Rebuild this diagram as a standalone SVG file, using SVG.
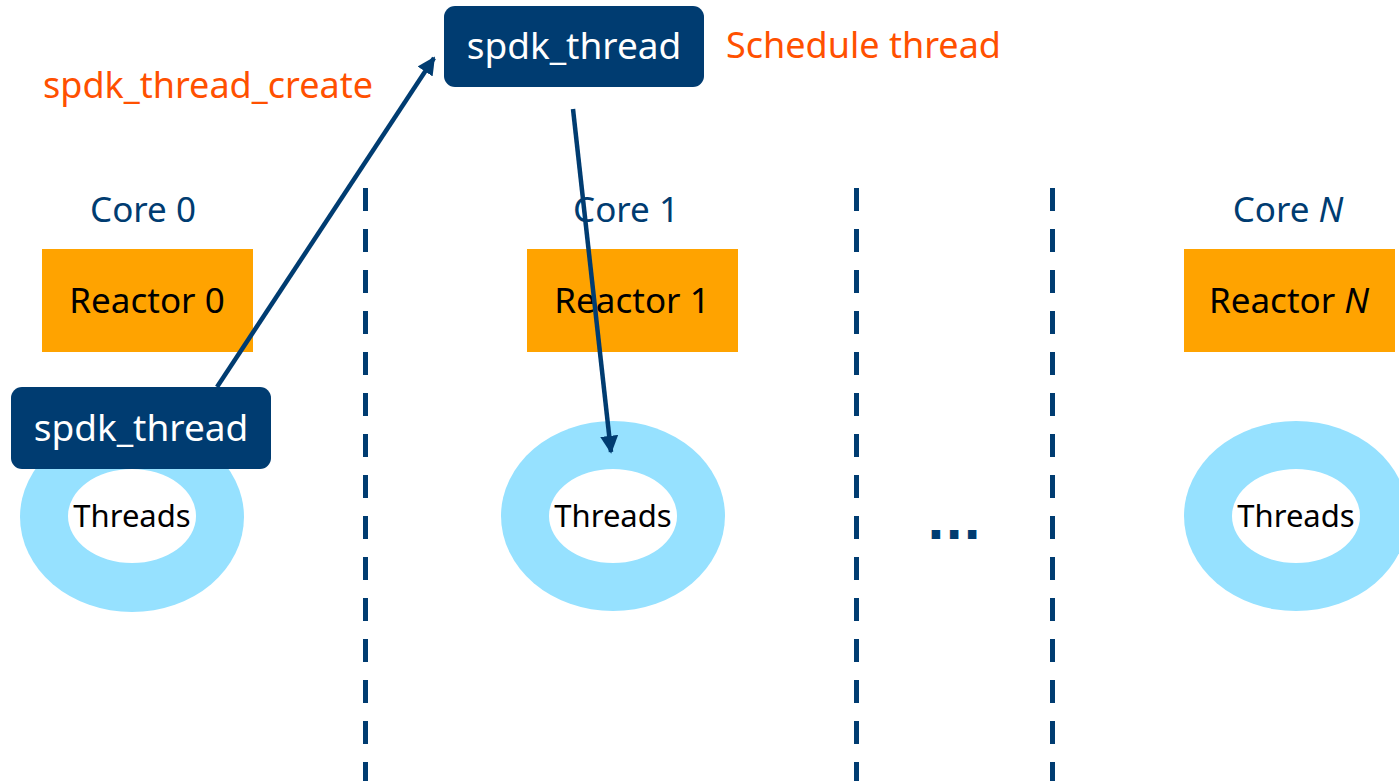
<svg xmlns="http://www.w3.org/2000/svg" width="1399" height="781" viewBox="0 0 1399 781">
  <style>
    text { font-family: "Noto Sans", "Open Sans", "DejaVu Sans", sans-serif; }
    .core { fill: #003C71; font-size: 35px; text-anchor: middle; }
    .reactor { fill: #FFA300; }
    .reactor-label { fill: #000000; font-size: 35px; text-anchor: middle; }
    .ring { fill: #96E1FF; }
    .hole { fill: #FFFFFF; }
    .threads { fill: #000000; font-size: 31px; text-anchor: middle; }
    .thread-box { fill: #003C71; }
    .thread-label { fill: #FFFFFF; font-size: 37px; text-anchor: middle; }
    .note { fill: #FF5000; font-size: 36px; }
    .dots { fill: #003C71; font-family: "DejaVu Sans", sans-serif; font-size: 48px; font-weight: bold; text-anchor: middle; }
    .divider { stroke: #003C71; stroke-width: 5; stroke-dasharray: 23 18; fill: none; }
    .link { stroke: #003C71; stroke-width: 4.5; fill: none; marker-end: url(#head); }
  </style>
  <defs>
    <marker id="head" viewBox="0 0 10 10" refX="9" refY="5" markerWidth="4" markerHeight="4" orient="auto" markerUnits="strokeWidth">
      <path d="M0,0 L10,5 L0,10 Z" fill="#003C71"/>
    </marker>
  </defs>

  <rect width="1399" height="781" fill="#FFFFFF"/>

  <!-- core separators -->
  <g id="dividers">
    <line class="divider" x1="365.5" y1="188" x2="365.5" y2="781"/>
    <line class="divider" x1="856.5" y1="188" x2="856.5" y2="781"/>
    <line class="divider" x1="1052.5" y1="188" x2="1052.5" y2="781"/>
  </g>

  <!-- core 0 -->
  <g id="core0">
    <text class="core" x="143" y="222">Core 0</text>
    <rect class="reactor" x="42" y="249" width="211" height="103"/>
    <text class="reactor-label" x="147" y="313">Reactor 0</text>
    <ellipse class="ring" cx="132" cy="517" rx="112" ry="95"/>
    <ellipse class="hole" cx="132" cy="516" rx="64" ry="47"/>
    <text class="threads" x="132" y="527">Threads</text>
  </g>

  <!-- core 1 -->
  <g id="core1">
    <text class="core" x="626" y="222">Core 1</text>
    <rect class="reactor" x="527" y="249" width="211" height="103"/>
    <text class="reactor-label" x="632" y="313">Reactor 1</text>
    <ellipse class="ring" cx="613" cy="516" rx="112" ry="95"/>
    <ellipse class="hole" cx="613" cy="516" rx="64" ry="47"/>
    <text class="threads" x="613" y="527">Threads</text>
  </g>

  <!-- ellipsis between cores -->
  <g id="more">
    <text class="dots" x="954" y="539">...</text>
  </g>

  <!-- core N -->
  <g id="coreN">
    <text class="core" x="1288" y="222">Core <tspan font-style="italic">N</tspan></text>
    <rect class="reactor" x="1184" y="249" width="211" height="103"/>
    <text class="reactor-label" x="1289" y="313">Reactor <tspan font-style="italic">N</tspan></text>
    <ellipse class="ring" cx="1296" cy="516" rx="112" ry="95"/>
    <ellipse class="hole" cx="1296" cy="516" rx="64" ry="47"/>
    <text class="threads" x="1296" y="527">Threads</text>
  </g>

  <!-- new thread on core 0 -->
  <g id="thread-new">
    <rect class="thread-box" x="11" y="387" width="260" height="82" rx="11"/>
    <text class="thread-label" x="141" y="441">spdk_thread</text>
  </g>

  <!-- scheduled thread -->
  <g id="thread-scheduled">
    <rect class="thread-box" x="444" y="6" width="260" height="81" rx="11"/>
    <text class="thread-label" x="574" y="59">spdk_thread</text>
  </g>

  <!-- annotations -->
  <g id="labels">
    <text class="note" x="43" y="98">spdk_thread_create</text>
    <text class="note" x="726" y="58">Schedule thread</text>
  </g>

  <g id="connectors">
    <line class="link" x1="217" y1="387" x2="434" y2="58"/>
    <line class="link" x1="573" y1="109" x2="611" y2="452"/>
  </g>
</svg>
